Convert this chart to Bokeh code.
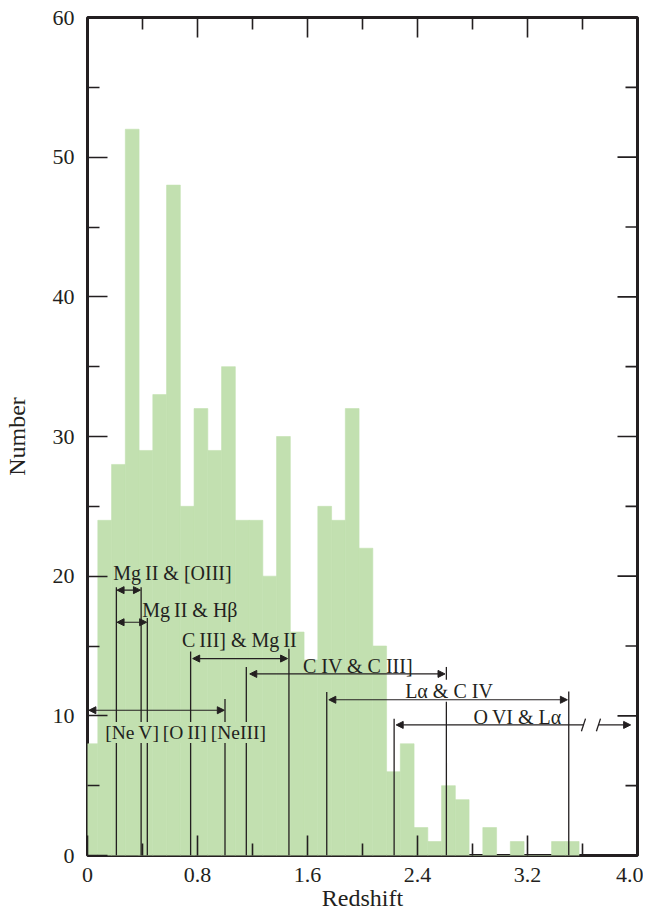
import math
from bokeh.plotting import figure
from bokeh.models import Range1d, FixedTicker, Arrow, NormalHead, Label, CustomJSTickFormatter
from bokeh.embed import file_html
from bokeh.resources import INLINE

# ---------------- data ----------------
# histogram bin edges (redshift) and counts
bin_edges = [0.0, 0.075, 0.175, 0.275, 0.375, 0.475, 0.575, 0.675, 0.775, 0.875,
             0.975, 1.075, 1.175, 1.275, 1.375, 1.475, 1.575, 1.675, 1.775, 1.875,
             1.975, 2.075, 2.175, 2.275, 2.375, 2.475, 2.575, 2.675, 2.775, 2.875,
             2.975, 3.075, 3.175, 3.275, 3.375, 3.475, 3.575]
counts = [8, 24, 28, 52, 29, 33, 48, 25, 32, 29,
          35, 24, 24, 20, 30, 16, 14, 25, 24, 32,
          22, 15, 6, 8, 2, 1, 5, 4, 0, 2,
          0, 1, 0, 0, 1, 1]

# vertical marker lines: redshift and height
line_z = [0.21, 0.39, 0.435, 0.75, 1.0, 1.155, 1.465, 1.74, 2.23, 2.61, 3.50]
line_top = [19.2, 19.2, 17.0, 14.6, 11.2, 13.5, 14.8, 11.7, 9.8, 13.5, 11.75]

# redshift windows (double arrows): start, end, level
arrow_z0 = [0.215, 0.215, 0.765, 1.18, 1.755, 0.01]
arrow_z1 = [0.385, 0.43, 1.455, 2.60, 3.49, 0.995]
arrow_y = [19.0, 16.7, 14.1, 13.0, 11.15, 10.4]

# broken window (O VI & Lalpha) running off the axis
broken_z0, broken_z1, broken_y = 2.245, 3.95, 9.35
break_z = [3.607, 3.716]

# window labels
label_text = ["Mg\u2009II & [OIII]", "Mg\u2009II & H\u03b2", "C\u2009III] & Mg\u2009II",
              "C IV & C III]", "L\u03b1 & C IV", "O\u2009VI & L\u03b1",
              "[Ne\u2009V]\u2009[O\u2009II]\u2009[NeIII]"]
label_z = [0.187, 0.398, 0.687, 1.567, 2.31, 2.807, 0.129]
label_y = [20.2, 17.6, 15.4, 13.6, 11.8, 9.9, 8.8]
label_bg = [None, None, None, None, "white", None, "bar"]
label_size = ["20px", "20px", "20px", "20px", "20px", "20px", "19.5px"]

x_ticks = [0, 0.8, 1.6, 2.4, 3.2, 4.0]
x_tick_labels = ["0", "0.8", "1.6", "2.4", "3.2", "4.0"]
x_minor = [0.4, 1.2, 2.0, 2.8, 3.6]
y_ticks = [0, 10, 20, 30, 40, 50, 60]
y_minor = [5, 15, 25, 35, 45, 55]

X_MAX, Y_MAX = 4.0, 60

# ---------------- style ----------------
BAR = "#c2e0b0"
INK = "#231f20"
FONT = "Liberation Serif"

p = figure(width=643, height=913, x_range=Range1d(0, X_MAX), y_range=Range1d(0, Y_MAX),
           output_backend="svg", toolbar_location=None,
           min_border_left=87, min_border_right=6, min_border_top=17, min_border_bottom=58)
p.grid.visible = False
p.outline_line_color = INK
p.outline_line_width = 3
p.background_fill_color = "white"
p.border_fill_color = "white"

p.quad(left=bin_edges[:-1], right=bin_edges[1:], top=counts, bottom=0,
       fill_color=BAR, line_color=BAR, line_width=0.6)

p.segment(x0=line_z, y0=[0] * len(line_z), x1=line_z, y1=line_top,
          line_color=INK, line_width=1.3)

# slashes for the axis break
p.segment(x0=[b - 0.015 for b in break_z], y0=[broken_y - 0.45] * 2,
          x1=[b + 0.015 for b in break_z], y1=[broken_y + 0.45] * 2,
          line_color=INK, line_width=1.3)

# inward ticks on the top and right frame edges (half of each dash is clipped by the frame)
p.scatter(x=x_ticks, y=[Y_MAX] * len(x_ticks), marker="dash", size=40, angle=math.pi / 2,
          line_color=INK, line_width=1.6)
p.scatter(x=x_minor, y=[Y_MAX] * len(x_minor), marker="dash", size=24, angle=math.pi / 2,
          line_color=INK, line_width=1.6)
p.scatter(x=[X_MAX] * len(y_ticks), y=y_ticks, marker="dash", size=40,
          line_color=INK, line_width=1.6)
p.scatter(x=[X_MAX] * len(y_minor), y=y_minor, marker="dash", size=24,
          line_color=INK, line_width=1.6)

def style_axis(ax, major_ticks, minor_ticks):
    ax.ticker = FixedTicker(ticks=major_ticks, minor_ticks=minor_ticks)
    ax.axis_line_color = None
    ax.major_tick_in = 20
    ax.major_tick_out = 0
    ax.minor_tick_in = 12
    ax.minor_tick_out = 0
    ax.major_tick_line_color = INK
    ax.minor_tick_line_color = INK
    ax.major_tick_line_width = 1.6
    ax.minor_tick_line_width = 1.6
    ax.major_label_text_font = FONT
    ax.major_label_text_font_size = "22px"
    ax.major_label_text_color = INK
    ax.axis_label_text_font = FONT
    ax.axis_label_text_font_size = "24px"
    ax.axis_label_text_font_style = "normal"
    ax.axis_label_text_color = INK

xb = p.xaxis[0]
yl = p.yaxis[0]
style_axis(xb, x_ticks, x_minor)
style_axis(yl, y_ticks, y_minor)
xb.major_label_standoff = 12
yl.major_label_standoff = 13
xb.major_label_text_line_height = 0.9
xb.axis_label_text_line_height = 0.9
xb.formatter = CustomJSTickFormatter(args=dict(labels=x_tick_labels),
                                     code="return labels[index]")
xb.axis_label = "Redshift"
xb.axis_label_standoff = 0
yl.axis_label = "Number"
yl.axis_label_standoff = 20

for t, z, y, bg, fs in zip(label_text, label_z, label_y, label_bg, label_size):
    kw = {}
    if bg == "white":
        kw["background_fill_color"] = "white"
    elif bg == "bar":
        kw["background_fill_color"] = BAR
    p.add_layout(Label(x=z, y=y, text=t, text_font=FONT, text_font_size=fs,
                       text_color=INK, text_align="left", text_baseline="middle", **kw))

def head():
    return NormalHead(size=7, fill_color=INK, line_color=INK, line_width=1)

for z0, z1, y in zip(arrow_z0, arrow_z1, arrow_y):
    p.add_layout(Arrow(start=head(), end=head(), x_start=z0, y_start=y, x_end=z1, y_end=y,
                       line_color=INK, line_width=1.2))

p.add_layout(Arrow(start=head(), end=None, x_start=broken_z0, y_start=broken_y,
                   x_end=break_z[0], y_end=broken_y, line_color=INK, line_width=1.2))
p.add_layout(Arrow(start=None, end=head(), x_start=break_z[1], y_start=broken_y,
                   x_end=broken_z1, y_end=broken_y, line_color=INK, line_width=1.2))

open("out.html", "w").write(file_html(p, INLINE))
